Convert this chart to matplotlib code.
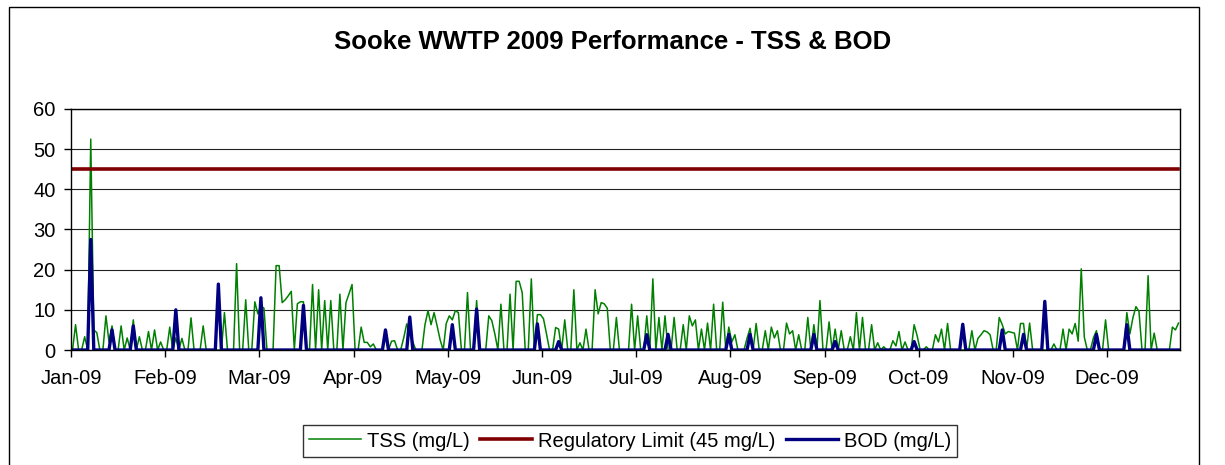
import numpy as np
import pandas as pd
import matplotlib.pyplot as plt
from matplotlib.patches import Rectangle

plt.rcParams['font.family'] = ['Liberation Sans', 'DejaVu Sans']

# daily TSS (mg/L), 0 on days without a sample - one row per month
tss = [
    0, 6.3, 0, 0, 3.3, 0, 52.5, 5, 4.3, 0, 0, 8.5, 2, 6, 0, 0, 6, 0, 3, 0, 7.5, 0, 3.3, 0, 0, 4.6, 0, 5, 0, 2, 0,
    0, 5.7, 0, 3, 0, 2.9, 0, 0, 8, 0, 0, 0, 6, 0, 0, 0, 0, 0, 0, 9.3, 0, 0, 0, 21.5, 0, 0, 12.5, 0,
    0, 12, 9, 11, 10.4, 0, 0, 0, 21, 21, 11.8, 12.5, 13.5, 14.6, 0, 11.5, 12, 12, 0, 0, 16.3, 0, 15, 0, 12.3, 0, 12.3, 0, 0, 13.9, 0,
    11.8, 14, 16.3, 0, 0, 5.7, 1.9, 1.9, 0.8, 1.5, 0, 0, 0, 4, 0, 2.2, 2.3, 0, 0, 3, 6.5, 4, 2, 0, 0, 0, 6.3, 9.8, 6.3, 9.3,
    6, 2.5, 0, 6.6, 8.5, 7.5, 9.8, 9.3, 0, 0, 14.3, 0, 0, 12.3, 0, 0, 0, 8.5, 7.3, 4, 0, 11.4, 0, 0, 13.9, 0, 17.1, 17.1, 14.3, 0, 0,
    17.7, 0, 8.8, 8.8, 7.8, 4, 0, 0, 5.6, 5.2, 0, 7.5, 0, 0, 15, 0, 1.8, 0, 5.2, 0, 0, 15, 9, 11.8, 11.5, 10.4, 0, 0, 8.1, 0,
    0, 0, 0, 11.4, 0, 8.5, 0, 0, 8.5, 0, 17.7, 0, 8.1, 0, 8.5, 0, 0, 8.1, 0, 0, 6.3, 0, 8.5, 6, 7.5, 0, 5.2, 0, 6.7, 0, 11.4,
    0, 0, 11.9, 0, 5.7, 2, 3.8, 0, 0, 0, 2.9, 5.4, 0, 6.6, 0, 0, 4.8, 0, 5.7, 3, 4.8, 0, 0, 6.7, 4, 4.8, 0, 3.8, 0, 0, 8.1,
    0, 6.3, 0, 12.3, 0, 0, 7, 0, 5.2, 0, 4.8, 0, 0, 3.3, 0, 9.3, 0, 8.1, 0, 0, 6.3, 0, 1.8, 0, 0.8, 0, 0, 2.3, 1, 4.6,
    0, 2, 0, 0, 6.3, 3.5, 0, 0, 0.8, 0, 0, 3.8, 2, 5.2, 0, 6.6, 0, 0, 0, 0, 0, 0, 0, 4.8, 0, 2.9, 3.8, 4.8, 4.5, 3.8, 0,
    0, 8.1, 6.3, 4, 4.6, 4.4, 4.2, 0, 6.6, 6.6, 0, 6.7, 0, 0, 0, 0, 0, 0, 0, 1.5, 0, 0, 5.2, 0, 5.2, 4, 6.6, 2.2, 20.2, 3.2,
    0, 0, 3, 4.8, 0, 0, 7.5, 0, 0, 0, 0, 0, 0, 9.3, 4, 8, 10.8, 9.6, 0, 0, 18.5, 0, 4.2, 0, 0, 0, 0, 0, 5.7, 5, 6.7,
]

# BOD (mg/L) sample days (day of year, 0 = Jan 1) and results
bod_days = [6, 13, 20, 34, 48, 62, 76, 103, 111, 125, 133, 153, 160, 189, 196,
            216, 223, 244, 251, 277, 293, 306, 313, 320, 337, 347]
bod_vals = [27.5, 5, 6, 10, 16.4, 13, 11.1, 5, 8.2, 6.3, 10.2, 6.5, 2.1, 3.8, 3.9,
            3.9, 3.9, 3.9, 2.1, 2.1, 6.4, 5, 3.9, 12.1, 3.9, 6.3]

limit = 45
dates = pd.date_range('2009-01-01', '2009-12-31')

bod = np.zeros(len(dates))
bod[bod_days] = bod_vals
x = np.arange(len(dates))

fig = plt.figure(figsize=(12.25, 4.65), dpi=100)
# chart area border
fig.patches.append(Rectangle((9 / 1225, -0.05), 1190 / 1225, 1.05 - 7 / 465,
                             transform=fig.transFigure, fill=False, ec='black', lw=1))

fig.text(0.5, 1 - 42 / 465, 'Sooke WWTP 2009 Performance - TSS & BOD',
         ha='center', va='center', fontsize=18.5, fontweight='bold')

ax = fig.add_axes([71 / 1225, 1 - 350 / 465, 1109 / 1225, 241 / 465])
l1, = ax.plot(x, tss, color='#008000', lw=1.1, label='TSS (mg/L)')
l2, = ax.plot(x, [limit] * len(x), color='#800000', lw=2.6, label='Regulatory Limit (45 mg/L)')
l3, = ax.plot(x, bod, color='#000080', lw=2.4, label='BOD (mg/L)')

ax.set_xlim(-0.5, len(x) - 0.5)
ax.set_ylim(0, 60)
ax.set_yticks(range(0, 61, 10))
tick_idx = np.arange(0, len(x), 31)
ax.set_xticks(tick_idx - 0.5)
ax.set_xticklabels(dates[tick_idx].strftime('%b-%y'))
ax.tick_params(direction='out', length=5, width=1, labelsize=14.5, color='black')
ax.tick_params(axis='x', pad=9)
ax.tick_params(axis='y', pad=6)
ax.yaxis.grid(True, color='#222222', lw=0.8)
ax.set_axisbelow(True)
for s in ax.spines.values():
    s.set_color('black')
    s.set_linewidth(1)

fig.legend(handles=[l1, l2, l3], loc='center', bbox_to_anchor=(630 / 1225, 1 - 441 / 465),
           ncol=3, fontsize=14.5, frameon=True, fancybox=False, edgecolor='black',
           handlelength=2.6, handletextpad=0.3, columnspacing=0.5, borderpad=0.3,
           borderaxespad=0).get_frame().set_linewidth(1)

fig.savefig('out.png', dpi=100)
